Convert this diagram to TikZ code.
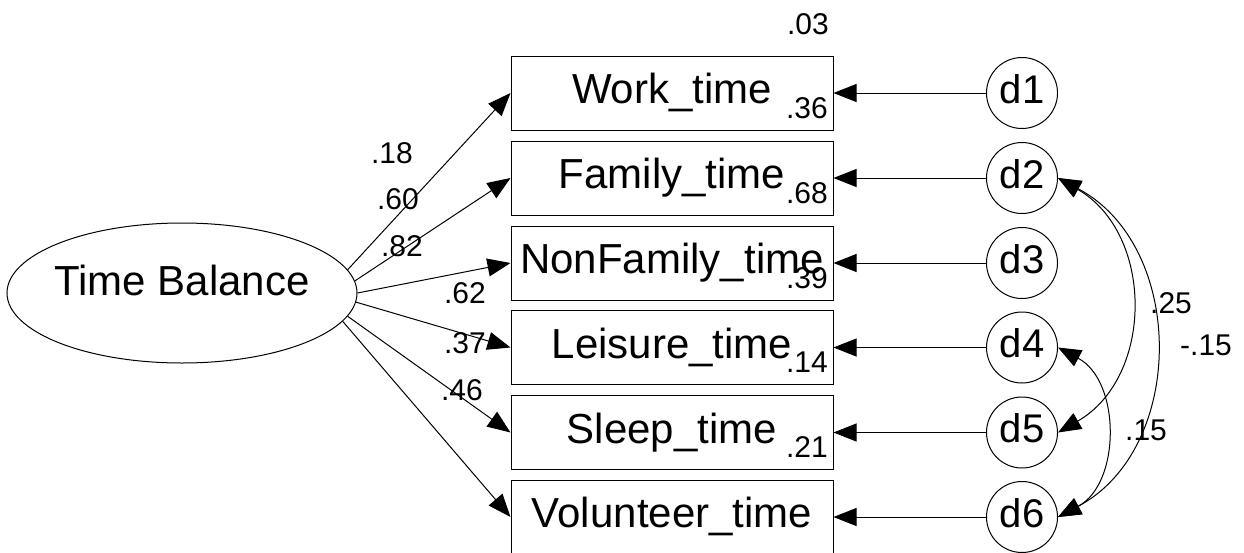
\documentclass[tikz,border=0pt]{standalone}
\usepackage{fontspec}
\setmainfont{Liberation Sans}
\usetikzlibrary{arrows.meta,shapes.geometric}
\begin{document}
\begin{tikzpicture}[x=1pt,y=1pt,line width=1pt,
  obs/.style={draw, rectangle, minimum width=322pt, minimum height=74pt,
    inner sep=0pt, text height=30pt, text depth=9pt,
    font=\fontsize{42}{42}\selectfont},
  err/.style={draw, circle, minimum size=71pt, inner sep=0pt,
    text height=30pt, text depth=10pt, font=\fontsize{40}{40}\selectfont},
  lat/.style={draw, ellipse, minimum width=350pt, minimum height=140pt, inner sep=0pt},
  latname/.style={inner sep=0pt, text height=30pt, text depth=26pt,
    font=\fontsize{42}{42}\selectfont},
  num/.style={inner sep=0pt, font=\fontsize{30}{30}\selectfont},
  tip/.tip={Triangle[length=23pt,width=18pt]},
  arr/.style={-tip},
  cov/.style={tip-tip}]
\useasboundingbox (0,0) rectangle (1244,-552);

% latent factor
\node[lat] (tb) at (182,-293) {};
\node[latname] (tbname) at (tb.center) {Time Balance};

% observed indicators
\node[obs] (work)  at (672,-93)    {Work\_time};
\node[obs] (fam)   at (672,-178)   {Family\_time};
\node[obs] (nfam)  at (672,-263)   {NonFamily\_time};
\node[obs] (leis)  at (672,-347.5) {Leisure\_time};
\node[obs] (sleep) at (672,-432.5) {Sleep\_time};
\node[obs] (vol)   at (672,-517)   {Volunteer\_time};

% residuals
\node[err] (d1) at (1022,-93)    {d1};
\node[err] (d2) at (1022,-178)   {d2};
\node[err] (d3) at (1022,-263)   {d3};
\node[err] (d4) at (1022,-347.5) {d4};
\node[err] (d5) at (1022,-432.5) {d5};
\node[err] (d6) at (1022,-517)   {d6};

% factor loadings
\draw[arr] (tb.8)     -- (work.west);
\draw[arr] (tb.4.3)   -- (fam.west);
\draw[arr] (tb.0.7)   -- (nfam.west);
\draw[arr] (tb.-3.9)  -- (leis.west);
\draw[arr] (tb.-8.1)  -- (sleep.west);
\draw[arr] (tb.-10.6) -- (vol.west);

% residual paths
\draw[arr] (d1.west) -- (work.east);
\draw[arr] (d2.west) -- (fam.east);
\draw[arr] (d3.west) -- (nfam.east);
\draw[arr] (d4.west) -- (leis.east);
\draw[arr] (d5.west) -- (sleep.east);
\draw[arr] (d6.west) -- (vol.east);

% residual covariances
\draw[cov] (d2.east) to[out=-30,in=30,looseness=1.12] (d5.east);
\draw[cov] (d2.east) to[out=-28,in=28,looseness=1.1] (d6.east);
\draw[cov] (d4.east) to[out=-28,in=28,looseness=1.08] (d6.east);

% loading estimates
\node[num] (l1) at (392,-153) {.18};
\node[num] (l2) at (398,-199) {.60};
\node[num] (l3) at (402,-246) {.82};
\node[num] (l4) at (465,-293) {.62};
\node[num] (l5) at (465,-343) {.37};
\node[num] (l6) at (462,-390) {.46};

% squared multiple correlations
\node[num] (r0) at (808,-24)  {.03};
\node[num] (r1) at (807,-108) {.36};
\node[num] (r2) at (807,-193) {.68};
\node[num] (r3) at (807,-278) {.39};
\node[num] (r4) at (807,-362) {.14};
\node[num] (r5) at (807,-447) {.21};

% covariance estimates
\node[num] (c25) at (1171,-303) {.25};
\node[num] (c26) at (1206,-345) {-.15};
\node[num] (c46) at (1146,-430) {.15};
\end{tikzpicture}
\end{document}
